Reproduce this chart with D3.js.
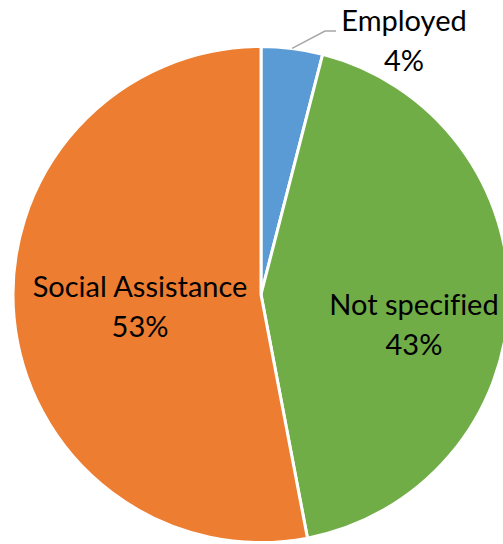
<!DOCTYPE html>
<html>
<head>
<meta charset="utf-8">
<script src="https://cdn.jsdelivr.net/npm/d3@7"></script>
<style>
  html, body { margin: 0; padding: 0; background: #fff; }
  svg { display: block; }
  text { font-family: Lato, "Open Sans", sans-serif; fill: #000; font-variant-ligatures: none; }
</style>
</head>
<body>
<svg id="chart" width="503" height="544"></svg>
<script>
const categories = ["Employed", "Not specified", "Social Assistance"];
const values = [4, 43, 53];
const colors = ["#5B9BD5", "#70AD47", "#ED7D31"];

const width = 503, height = 544;
const cx = 261, cy = 294.5, radius = 248;

const svg = d3.select("#chart");
const g = svg.append("g").attr("transform", `translate(${cx},${cy})`);

const pie = d3.pie().sort(null).value(d => d.value);
const arcs = pie(categories.map((c, i) => ({ name: c, value: values[i], color: colors[i] })));
const arc = d3.arc().innerRadius(0).outerRadius(radius);

g.selectAll("path.slice")
  .data(arcs)
  .join("path")
  .attr("class", "slice")
  .attr("d", arc)
  .attr("fill", d => d.data.color)
  .attr("stroke", "#fff")
  .attr("stroke-width", 3)
  .attr("stroke-linejoin", "round");

// label placement (offsets relative to the pie centre)
const labelPos = [
  { x: 143, y: -263.5 },   // Employed sits outside with a leader line
  { x: 153, y: 20.5 },
  { x: -121, y: 2.5 }
];
const fontSize = 29;
const lineGap = 39.5;

arcs.forEach((d, i) => {
  const p = labelPos[i];
  const t = g.append("text")
    .attr("text-anchor", "middle")
    .attr("font-size", fontSize)
    .attr("x", p.x).attr("y", p.y);
  t.append("tspan").attr("x", p.x).text(d.data.name);
  t.append("tspan").attr("x", p.x).attr("dy", lineGap)
    .text(Math.round(d.data.value) + "%");
});

// leader line for the small slice
const a0 = arcs[0];
const mid = (a0.startAngle + a0.endAngle) / 2;
const edge = [Math.sin(mid) * radius, -Math.cos(mid) * radius];
g.append("polyline")
  .attr("points", [edge, [64, -263.5], [75, -263.5]].map(p => p.join(",")).join(" "))
  .attr("fill", "none")
  .attr("stroke", "#A6A6A6")
  .attr("stroke-width", 1.5);
</script>
</body>
</html>
